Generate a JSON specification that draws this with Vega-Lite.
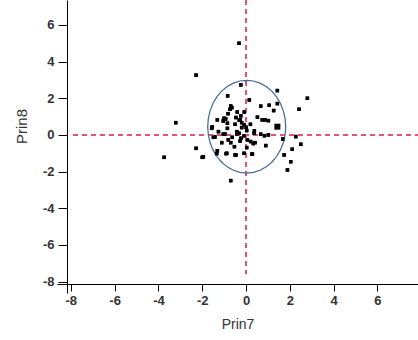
{
  "$schema": "https://vega.github.io/schema/vega-lite/v6.json",
  "width": 361,
  "height": 293,
  "autosize": {"type": "none"},
  "padding": {"left": 57, "top": 0, "right": 0, "bottom": 47},
  "background": "white",
  "config": {
    "view": {"stroke": null},
    "axis": {
      "grid": false,
      "domainColor": "#000",
      "tickColor": "#000",
      "labelFont": "Liberation Sans",
      "labelFontSize": 13,
      "labelFontWeight": "bold",
      "labelColor": "#333",
      "labelExpr": "toString(datum.value)",
      "titleFont": "Liberation Sans",
      "titleFontSize": 14,
      "titleFontWeight": "normal",
      "titleColor": "#333"
    }
  },
  "datasets": {
    "pts": [
      {"x": -0.32, "y": 5.0}, {"x": -2.28, "y": 3.26}, {"x": -0.24, "y": 2.73}, {"x": 1.43, "y": 2.42},
      {"x": 2.8, "y": 2.0}, {"x": -0.84, "y": 2.13}, {"x": 0.15, "y": 1.91}, {"x": 1.43, "y": 1.71},
      {"x": 1.06, "y": 1.62}, {"x": 0.67, "y": 1.57}, {"x": -0.7, "y": 1.58}, {"x": -0.73, "y": 1.4},
      {"x": 2.42, "y": 1.4}, {"x": 1.26, "y": 1.33}, {"x": -0.4, "y": 1.25}, {"x": -0.82, "y": 1.16},
      {"x": -0.08, "y": 1.25}, {"x": -0.24, "y": 1.04}, {"x": 0.52, "y": 0.97}, {"x": -0.93, "y": 0.87},
      {"x": -1.31, "y": 0.82}, {"x": -1.04, "y": 0.76}, {"x": -0.27, "y": 0.82}, {"x": 0.74, "y": 0.82},
      {"x": 1.02, "y": 0.78}, {"x": -3.21, "y": 0.67}, {"x": -0.2, "y": 0.67}, {"x": -0.85, "y": 0.64},
      {"x": -0.09, "y": 0.56}, {"x": -1.57, "y": 0.36}, {"x": -0.85, "y": 0.36}, {"x": 0.0, "y": 0.42},
      {"x": -1.26, "y": 0.18}, {"x": -0.42, "y": 0.18}, {"x": 0.03, "y": 0.24}, {"x": 0.38, "y": 0.22},
      {"x": -0.32, "y": 0.09}, {"x": 0.37, "y": 0.09}, {"x": 0.67, "y": 0.04}, {"x": 1.02, "y": 0.0},
      {"x": -0.96, "y": 0.05}, {"x": -1.49, "y": -0.13}, {"x": -0.63, "y": -0.13}, {"x": -0.23, "y": -0.18},
      {"x": -0.09, "y": -0.05}, {"x": 1.68, "y": -0.22}, {"x": 2.27, "y": -0.09}, {"x": -0.81, "y": -0.27},
      {"x": 0.06, "y": -0.27}, {"x": 0.21, "y": -0.36}, {"x": 0.41, "y": -0.42}, {"x": -1.11, "y": -0.42},
      {"x": -0.7, "y": -0.42}, {"x": 2.5, "y": -0.51}, {"x": 0.9, "y": -0.58}, {"x": -0.53, "y": -0.64},
      {"x": 0.03, "y": -0.69}, {"x": -2.28, "y": -0.73}, {"x": -1.31, "y": -0.86}, {"x": 2.11, "y": -0.78},
      {"x": -0.88, "y": -1.0}, {"x": -0.46, "y": -1.09}, {"x": -0.09, "y": -1.0}, {"x": 0.29, "y": -1.05},
      {"x": -2.0, "y": -1.22}, {"x": -3.74, "y": -1.22}, {"x": 1.74, "y": -1.09}, {"x": 2.04, "y": -1.46},
      {"x": 1.89, "y": -1.91}, {"x": -0.7, "y": -2.49}, {"x": -0.65, "y": 1.49}, {"x": -1.0, "y": 0.91},
      {"x": -0.46, "y": 0.95}, {"x": -0.31, "y": 0.8}, {"x": -0.5, "y": 0.58}, {"x": 0.2, "y": 0.58},
      {"x": 0.87, "y": 0.82}, {"x": -1.54, "y": 0.44}, {"x": -0.2, "y": 0.4}, {"x": -1.42, "y": -0.11},
      {"x": -1.04, "y": 0.04}, {"x": -0.42, "y": 0.04}, {"x": -0.27, "y": -0.33}, {"x": -1.34, "y": -1.02},
      {"x": -0.91, "y": -1.02}, {"x": -0.5, "y": -1.09}, {"x": -1.95, "y": -1.2}, {"x": 0.33, "y": -0.47},
      {"x": 0.27, "y": -1.05}, {"x": 0.84, "y": -0.04}
    ],
    "big": [{"x": 1.43, "y": 0.45}],
    "ell": [
      {"k": 0, "x": 1.81, "y": 0.45}, {"k": 1, "x": 1.783, "y": 0.889}, {"k": 2, "x": 1.703, "y": 1.315},
      {"k": 3, "x": 1.571, "y": 1.715}, {"k": 4, "x": 1.393, "y": 2.076}, {"k": 5, "x": 1.174, "y": 2.388},
      {"k": 6, "x": 0.92, "y": 2.641}, {"k": 7, "x": 0.639, "y": 2.827}, {"k": 8, "x": 0.339, "y": 2.942},
      {"k": 9, "x": 0.03, "y": 2.98}, {"k": 10, "x": -0.279, "y": 2.942}, {"k": 11, "x": -0.579, "y": 2.827},
      {"k": 12, "x": -0.86, "y": 2.641}, {"k": 13, "x": -1.114, "y": 2.388}, {"k": 14, "x": -1.333, "y": 2.076},
      {"k": 15, "x": -1.511, "y": 1.715}, {"k": 16, "x": -1.643, "y": 1.315}, {"k": 17, "x": -1.723, "y": 0.889},
      {"k": 18, "x": -1.75, "y": 0.45}, {"k": 19, "x": -1.723, "y": 0.011}, {"k": 20, "x": -1.643, "y": -0.415},
      {"k": 21, "x": -1.511, "y": -0.815}, {"k": 22, "x": -1.333, "y": -1.176}, {"k": 23, "x": -1.114, "y": -1.488},
      {"k": 24, "x": -0.86, "y": -1.741}, {"k": 25, "x": -0.579, "y": -1.927}, {"k": 26, "x": -0.279, "y": -2.042},
      {"k": 27, "x": 0.03, "y": -2.08}, {"k": 28, "x": 0.339, "y": -2.042}, {"k": 29, "x": 0.639, "y": -1.927},
      {"k": 30, "x": 0.92, "y": -1.741}, {"k": 31, "x": 1.174, "y": -1.488}, {"k": 32, "x": 1.393, "y": -1.176},
      {"k": 33, "x": 1.571, "y": -0.815}, {"k": 34, "x": 1.703, "y": -0.415}, {"k": 35, "x": 1.783, "y": 0.011},
      {"k": 36, "x": 1.81, "y": 0.45}
    ]
  },
  "layer": [
    {
      "data": {"name": "pts"},
      "mark": {"type": "point", "shape": "square", "filled": true, "size": 12, "color": "#000", "opacity": 1},
      "encoding": {
        "x": {
          "field": "x", "type": "quantitative", "title": "Prin7",
          "scale": {"domain": [-8.63, 7.85], "nice": false, "zero": false},
          "axis": {"values": [-8, -6, -4, -2, 0, 2, 4, 6, 8], "offset": -9, "tickSize": 7, "labelPadding": 3, "titlePadding": 10}
        },
        "y": {
          "field": "y", "type": "quantitative", "title": "Prin8",
          "scale": {"domain": [-8.62, 7.36], "nice": false, "zero": false},
          "axis": {"values": [-8, -6, -4, -2, 0, 2, 4, 6], "offset": -10, "tickSize": 9, "labelPadding": 4, "titleX": -46, "titleY": 126, "titleBaseline": "middle", "titleAlign": "center", "titleAngle": 270, "titleFontSize": 15}
        }
      }
    },
    {
      "data": {"values": [{}]},
      "mark": {"type": "rule", "color": "#e64f78", "strokeWidth": 2, "strokeDash": [5, 4]},
      "encoding": {"x": {"datum": -7.9}, "x2": {"datum": 7.85}, "y": {"datum": 0}}
    },
    {
      "data": {"values": [{}]},
      "mark": {"type": "rule", "color": "#e64f78", "strokeWidth": 2, "strokeDash": [5, 4]},
      "encoding": {"x": {"datum": 0}, "y": {"datum": 7.36}, "y2": {"datum": -7.6}}
    },
    {
      "data": {"name": "ell"},
      "mark": {"type": "line", "color": "#3f6898", "strokeWidth": 1.2},
      "encoding": {
        "x": {"field": "x", "type": "quantitative", "title": "Prin7"},
        "y": {"field": "y", "type": "quantitative", "title": "Prin8"},
        "order": {"field": "k", "type": "quantitative"}
      }
    },
    {
      "data": {"name": "pts"},
      "mark": {"type": "point", "shape": "square", "filled": true, "size": 12, "color": "#000", "opacity": 1},
      "encoding": {
        "x": {"field": "x", "type": "quantitative", "title": "Prin7"},
        "y": {"field": "y", "type": "quantitative", "title": "Prin8"}
      }
    },
    {
      "data": {"name": "big"},
      "mark": {"type": "point", "shape": "square", "filled": true, "size": 36, "color": "#000", "opacity": 1},
      "encoding": {
        "x": {"field": "x", "type": "quantitative", "title": "Prin7"},
        "y": {"field": "y", "type": "quantitative", "title": "Prin8"}
      }
    }
  ]
}
